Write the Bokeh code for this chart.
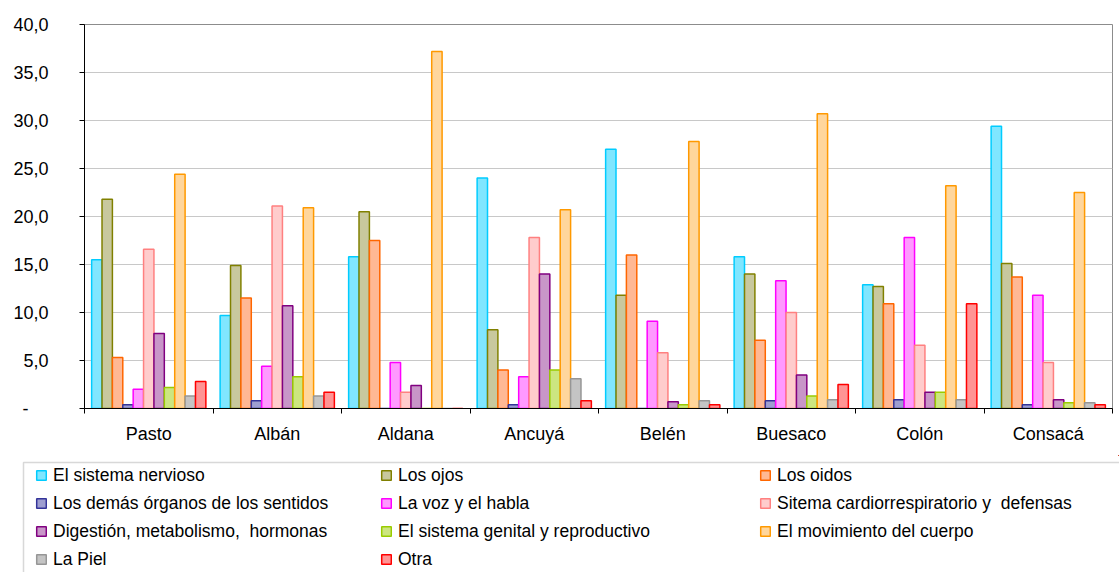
from bokeh.plotting import figure
from bokeh.models import (Range1d, FixedTicker, Legend, LegendItem, BoxAnnotation,
                          ColumnDataSource)
from bokeh.embed import file_html
from bokeh.resources import INLINE

categories = ["Pasto", "Albán", "Aldana", "Ancuyá", "Belén", "Buesaco", "Colón", "Consacá"]

series_names = [
    "El sistema nervioso",
    "Los ojos",
    "Los oidos",
    "Los demás órganos de los sentidos",
    "La voz y el habla",
    "Sitema cardiorrespiratorio y  defensas",
    "Digestión, metabolismo,  hormonas",
    "El sistema genital y reproductivo",
    "El movimiento del cuerpo",
    "La Piel",
    "Otra",
]

nervioso   = [15.5,  9.7, 15.8, 24.0, 27.0, 15.8, 12.9, 29.4]
ojos       = [21.8, 14.9, 20.5,  8.2, 11.8, 14.0, 12.7, 15.1]
oidos      = [ 5.3, 11.5, 17.5,  4.0, 16.0,  7.1, 10.9, 13.7]
demas      = [ 0.4,  0.8,  0.0,  0.4,  0.0,  0.8,  0.9,  0.4]
voz        = [ 2.0,  4.4,  4.8,  3.3,  9.1, 13.3, 17.8, 11.8]
cardio     = [16.6, 21.1,  1.7, 17.8,  5.8, 10.0,  6.6,  4.8]
digestion  = [ 7.8, 10.7,  2.4, 14.0,  0.7,  3.5,  1.7,  0.9]
genital    = [ 2.2,  3.3,  0.0,  4.0,  0.4,  1.3,  1.7,  0.6]
movimiento = [24.4, 20.9, 37.2, 20.7, 27.8, 30.7, 23.2, 22.5]
piel       = [ 1.3,  1.3,  0.0,  3.1,  0.8,  0.9,  0.9,  0.6]
otra       = [ 2.8,  1.7,  0.0,  0.8,  0.4,  2.5, 10.9,  0.4]

series_values = [nervioso, ojos, oidos, demas, voz, cardio, digestion, genital,
                 movimiento, piel, otra]

fill_colors = ["#80E6FF", "#C8C89E", "#FFB894", "#9E9ED0", "#FF99FF", "#FFCCCC",
               "#C896C8", "#CCE680", "#FFD69C", "#C4C4C4", "#FF9494"]
line_colors = ["#00CCFF", "#808000", "#FF6600", "#333399", "#FF00FF", "#FF8080",
               "#800080", "#99CC00", "#FF9900", "#969696", "#FF0000"]

y_ticks = [0, 5, 10, 15, 20, 25, 30, 35, 40]
y_tick_labels = ["-\u00a0\u00a0\u00a0\u00a0", "5,0", "10,0", "15,0", "20,0",
                 "25,0", "30,0", "35,0", "40,0"]

FONT = "Liberation Sans"
W = 1119
H_CHART = 455
H_LEG = 117

# ---------------- chart ----------------
p = figure(width=W, height=H_CHART, output_backend="svg", toolbar_location=None,
           x_range=Range1d(-0.5, len(categories) - 0.5), y_range=Range1d(0, 40),
           min_border_left=84, min_border_right=7, min_border_top=24,
           min_border_bottom=H_CHART - 408)
p.background_fill_color = "white"
p.border_fill_color = "white"
p.outline_line_color = "#8C8C8C"
p.outline_line_width = 1

n_series = len(series_values)
group_width = 0.889
bar_w = group_width / n_series

sources = []
for i, (vals, fc, lc) in enumerate(zip(series_values, fill_colors, line_colors)):
    xs = [k - group_width / 2 + bar_w * (i + 0.5) for k in range(len(categories))]
    src = ColumnDataSource(dict(x=xs, top=vals))
    sources.append(src)
    p.vbar(x="x", top="top", bottom=0, width=bar_w, source=src,
           fill_color=fc, line_color=lc, line_width=1.5)

p.xgrid.visible = False
p.ygrid.ticker = FixedTicker(ticks=y_ticks)
p.ygrid.grid_line_color = "#C8C8C8"
p.ygrid.grid_line_width = 1

yax = p.yaxis[0]
yax.ticker = FixedTicker(ticks=y_ticks)
yax.major_label_overrides = {t: l for t, l in zip(y_ticks, y_tick_labels)}
yax.major_label_text_font = FONT
yax.major_label_text_font_size = "18px"
yax.major_label_text_color = "black"
yax.axis_line_color = "black"
yax.major_tick_line_color = "black"
yax.major_tick_out = 5
yax.major_tick_in = 0
yax.minor_tick_out = 0
yax.minor_tick_in = 0
yax.major_label_standoff = 31

xax = p.xaxis[0]
cat_pos = list(range(len(categories)))
bounds = [k - 0.5 for k in range(len(categories) + 1)]
xax.ticker = FixedTicker(ticks=cat_pos, minor_ticks=bounds)
xax.major_label_overrides = {k: c for k, c in zip(cat_pos, categories)}
xax.major_label_text_font = FONT
xax.major_label_text_font_size = "18px"
xax.major_label_text_color = "black"
xax.axis_line_color = "black"
xax.major_tick_out = 0
xax.major_tick_in = 0
xax.minor_tick_out = 5
xax.minor_tick_in = 0
xax.minor_tick_line_color = "black"
xax.major_label_standoff = 10

# ---------------- legend panel (separate root, no frame alignment) ----------------
p2 = figure(width=W, height=H_LEG, output_backend="svg", toolbar_location=None,
            x_range=Range1d(-100, -99), y_range=Range1d(-100, -99),
            x_axis_location=None, y_axis_location=None, min_border=0)
p2.grid.visible = False
p2.outline_line_color = None
p2.background_fill_color = "white"
p2.border_fill_color = "white"

leg_renderers = []
for src, fc, lc in zip(sources, fill_colors, line_colors):
    r = p2.vbar(x="x", top="top", bottom=0, width=bar_w, source=src,
                fill_color=fc, line_color=lc, line_width=1.5)
    leg_renderers.append(r)

box = BoxAnnotation(left=23, right=3000, top=7, bottom=3000,
                    left_units="canvas", right_units="canvas",
                    top_units="canvas", bottom_units="canvas",
                    fill_color=None, fill_alpha=0, line_color="#7F7F7F",
                    line_width=1.5)
p2.add_layout(box)

col_x = [35, 380, 759]
top_off = 9
for c in range(3):
    idx = list(range(c, n_series, 3))
    items = [LegendItem(label=series_names[j], renderers=[leg_renderers[j]]) for j in idx]
    nrows = len(idx)
    height = nrows * 22 + (nrows - 1) * 6
    vy = H_LEG - (top_off + height)
    leg = Legend(items=items, location=(col_x[c], vy), orientation="vertical",
                 border_line_color=None, background_fill_alpha=0,
                 padding=0, margin=0, spacing=6, glyph_width=12, glyph_height=12,
                 label_height=22, label_standoff=6,
                 label_text_font=FONT, label_text_font_size="17.5px",
                 label_text_color="black")
    p2.add_layout(leg)

open("out.html", "w").write(file_html([p, p2], INLINE))
